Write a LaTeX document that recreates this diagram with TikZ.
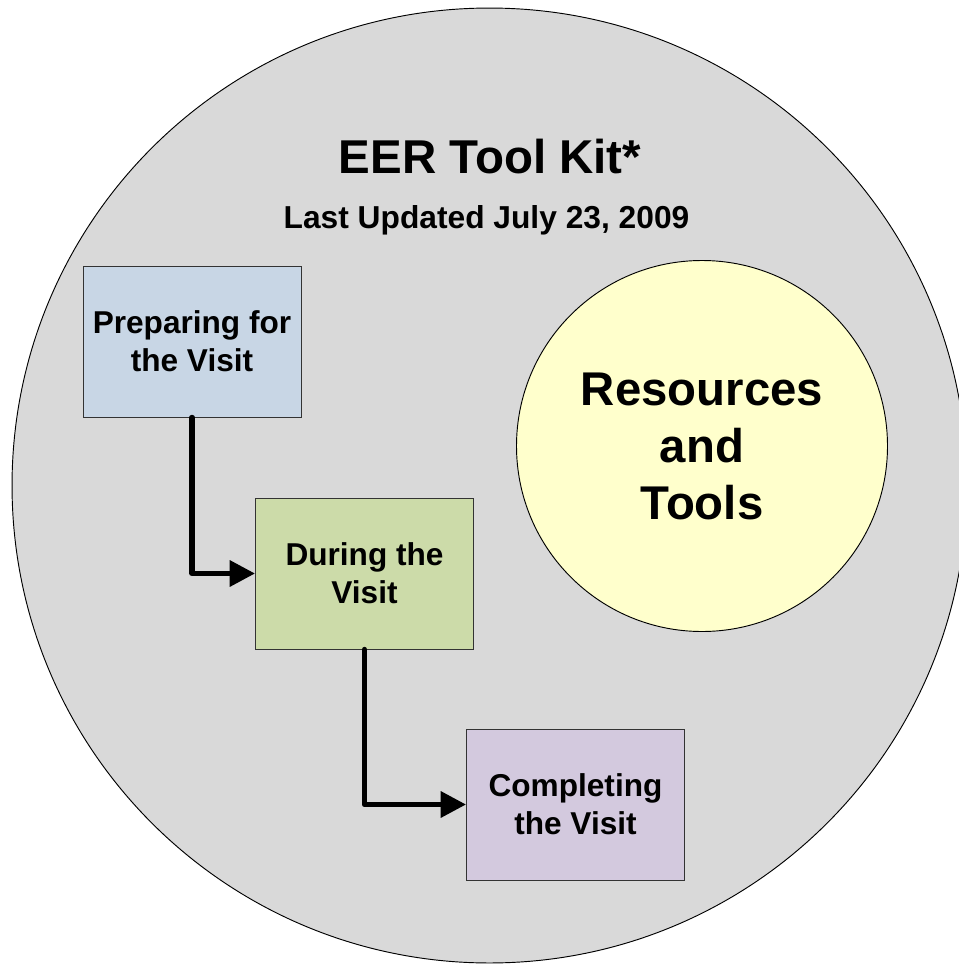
\documentclass[tikz,border=0pt]{standalone}
\usepackage{fontspec}
\setmainfont{Liberation Sans}
\usetikzlibrary{arrows.meta}

\definecolor{kitgray}{RGB}{217,217,217}
\definecolor{prepblue}{RGB}{200,214,229}
\definecolor{duringgreen}{RGB}{204,219,169}
\definecolor{complavender}{RGB}{211,201,222}
\definecolor{resyellow}{RGB}{255,255,204}

\tikzset{
	stage/.style={draw=black!80, line width=0.7pt, minimum width=163.5pt, minimum height=113.25pt,
		align=center, inner sep=0pt, font=\fontsize{23.7}{28.7}\selectfont\bfseries},
	flow/.style={line width=4pt, -{Triangle[length=19pt,width=19pt]}, line cap=round, line join=round}
}

\begin{document}
\begin{tikzpicture}[x=0.75pt, y=-0.75pt]
	%\draw[help lines] (0,0) grid (958,964);
	\useasboundingbox (0,0) rectangle (958,964);
	
	\fill [kitgray, draw=black, line width=0.7pt] (489.5,485.5) circle (358.1pt);
	
	\node [anchor=base, font=\fontsize{35.6}{42}\selectfont\bfseries] (title) at (490,173) {EER Tool Kit*};
	\node [anchor=base, font=\fontsize{23.8}{28}\selectfont\bfseries] (updated) at (486.5,228) {Last Updated July 23, 2009};
	
	\node [circle, draw=black, line width=0.7pt, fill=resyellow, minimum size=278.25pt, inner sep=0pt,
		align=center, font=\fontsize{35.5}{42.75}\selectfont\bfseries] (res) at (702,446)
		{Resources\\and\\Tools};
	
	\node [stage, fill=prepblue] (prep) at (192,341.5) {Preparing for\\the Visit};
	\node [stage, fill=duringgreen] (during) at (364.5,573.5) {During the\\Visit};
	\node [stage, fill=complavender] (compl) at (575.5,804.5) {Completing\\the Visit};
	
	\draw [flow] (prep.south) |- (during.west);
	\draw [flow] (during.south) |- (compl.west);
	
\end{tikzpicture}
\end{document}
